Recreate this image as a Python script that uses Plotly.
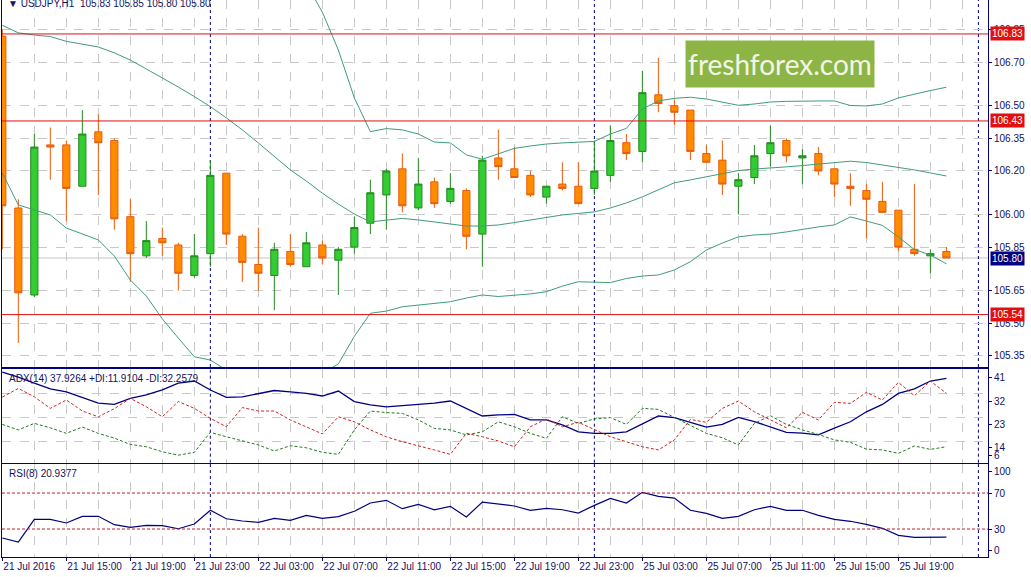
import plotly.graph_objects as go
from plotly.subplots import make_subplots

# USDJPY H1, 21 Jul 2016 11:00 .. 25 Jul 2016 22:00 (weekend skipped), one entry per bar
BARS = list(range(60))

OPEN = [106.82, 106.03, 105.63, 106.32, 106.32, 106.13, 106.38, 106.34, 105.99, 105.81,
        105.89, 105.86, 105.72, 105.82, 106.19, 105.90, 105.77, 105.72, 105.83, 105.76,
        105.86, 105.79, 105.85, 105.96, 106.09, 106.21, 106.03, 106.15, 106.06, 106.11,
        105.91, 106.26, 106.21, 106.18, 106.08, 106.14, 106.13, 106.12, 106.18, 106.33,
        106.29, 106.55, 106.50, 106.48, 106.28, 106.25, 106.13, 106.17, 106.28, 106.34,
        106.26, 106.28, 106.21, 106.13, 106.11, 106.06, 106.02, 105.84, 105.81, 105.83]
HIGH = [106.85, 106.07, 106.37, 106.40, 106.34, 106.48, 106.46, 106.35, 106.07, 105.97,
        105.94, 105.87, 105.91, 106.25, 106.19, 105.91, 105.94, 105.87, 105.91, 105.92,
        105.88, 105.85, 105.99, 106.16, 106.21, 106.28, 106.26, 106.17, 106.19, 106.12,
        106.27, 106.39, 106.31, 106.20, 106.13, 106.24, 106.24, 106.34, 106.41, 106.37,
        106.66, 106.72, 106.53, 106.48, 106.32, 106.34, 106.19, 106.32, 106.41, 106.35,
        106.30, 106.31, 106.21, 106.19, 106.14, 106.15, 106.02, 106.14, 105.84, 105.85]
LOW = [105.84, 105.41, 105.62, 106.16, 105.97, 106.13, 106.09, 105.93, 105.69, 105.80,
       105.81, 105.65, 105.71, 105.76, 105.86, 105.69, 105.65, 105.56, 105.76, 105.76,
       105.77, 105.63, 105.82, 105.91, 105.93, 106.01, 106.02, 106.03, 106.05, 105.84,
       105.76, 106.16, 106.17, 106.08, 106.05, 106.11, 106.05, 106.09, 106.15, 106.25,
       106.24, 106.47, 106.41, 106.25, 106.24, 106.09, 106.00, 106.14, 106.22, 106.24,
       106.14, 106.18, 106.08, 106.04, 105.89, 106.01, 105.83, 105.81, 105.73, 105.80]
CLOSE = [106.04, 105.64, 106.31, 106.31, 106.12, 106.37, 106.33, 105.98, 105.82, 105.88,
         105.87, 105.73, 105.81, 106.18, 105.91, 105.78, 105.73, 105.84, 105.77, 105.87,
         105.80, 105.84, 105.94, 106.10, 106.20, 106.04, 106.14, 106.05, 106.12, 105.90,
         106.25, 106.22, 106.17, 106.09, 106.13, 106.12, 106.05, 106.20, 106.34, 106.28,
         106.56, 106.51, 106.47, 106.29, 106.24, 106.14, 106.16, 106.27, 106.33, 106.27,
         106.27, 106.20, 106.14, 106.12, 106.07, 106.01, 105.85, 105.82, 105.82, 105.80]

# Bollinger bands
BB_UPPER = [107.549, 107.626, 107.629, 107.638, 107.654, 107.658, 107.657, 107.677, 107.721, 107.713,
            107.736, 107.740, 107.738, 107.661, 107.603, 107.558, 107.458, 107.342, 107.210, 107.060,
            106.930, 106.756, 106.536, 106.381, 106.395, 106.389, 106.370, 106.333, 106.329, 106.274,
            106.254, 106.278, 106.304, 106.315, 106.324, 106.329, 106.331, 106.336, 106.370, 106.396,
            106.485, 106.522, 106.534, 106.539, 106.531, 106.517, 106.502, 106.508, 106.517, 106.520,
            106.522, 106.522, 106.522, 106.501, 106.499, 106.508, 106.536, 106.554, 106.570, 106.585]
BB_MID = [106.870, 106.835, 106.825, 106.818, 106.796, 106.784, 106.770, 106.743, 106.710, 106.669,
          106.628, 106.586, 106.542, 106.496, 106.444, 106.389, 106.329, 106.266, 106.205, 106.154,
          106.098, 106.048, 106.002, 105.966, 105.975, 105.982, 105.975, 105.966, 105.956, 105.947,
          105.947, 105.952, 105.963, 105.975, 105.986, 105.998, 106.005, 106.012, 106.030, 106.053,
          106.081, 106.113, 106.146, 106.159, 106.174, 106.189, 106.202, 106.209, 106.213, 106.219,
          106.225, 106.232, 106.239, 106.245, 106.239, 106.228, 106.216, 106.205, 106.191, 106.177]
BB_LOWER = [106.191, 106.044, 106.021, 105.998, 105.938, 105.910, 105.883, 105.809, 105.699, 105.625,
            105.520, 105.432, 105.346, 105.331, 105.285, 105.220, 105.200, 105.190, 105.200, 105.250,
            105.270, 105.313, 105.440, 105.546, 105.556, 105.576, 105.584, 105.593, 105.599, 105.616,
            105.630, 105.623, 105.628, 105.635, 105.645, 105.671, 105.691, 105.690, 105.687, 105.706,
            105.717, 105.722, 105.745, 105.783, 105.837, 105.869, 105.897, 105.906, 105.910, 105.920,
            105.933, 105.943, 105.952, 105.989, 105.970, 105.950, 105.897, 105.839, 105.814, 105.773]

# ADX(14)
ADX = [40.3, 38.4, 36.1, 33.9, 32.8, 30.8, 28.5, 28.0, 30.3, 31.6,
       33.5, 36.1, 36.9, 33.5, 30.7, 30.9, 32.0, 33.3, 32.8, 32.2,
       31.2, 33.1, 29.1, 27.8, 27.1, 27.5, 28.0, 28.5, 29.3, 26.6,
       23.6, 24.0, 24.2, 22.1, 22.1, 20.2, 17.6, 17.0, 17.0, 17.6,
       20.7, 23.6, 23.0, 21.3, 19.4, 20.4, 23.1, 21.5, 19.4, 17.4,
       17.1, 16.4, 19.0, 21.4, 25.2, 28.0, 32.2, 33.9, 36.9, 37.93]
PLUS_DI = [20.4, 18.3, 20.8, 19.1, 17.0, 19.4, 17.0, 15.2, 12.8, 11.9,
           10.0, 8.7, 9.8, 17.4, 15.7, 14.1, 12.6, 10.3, 12.3, 11.5,
           9.8, 9.0, 18.3, 25.5, 24.9, 24.6, 22.1, 18.9, 18.3, 16.4,
           17.6, 21.4, 19.5, 17.0, 15.1, 23.3, 20.8, 22.5, 23.0, 20.4,
           26.5, 26.1, 23.0, 20.2, 17.0, 15.3, 12.6, 20.8, 23.7, 20.4,
           18.3, 16.6, 14.5, 13.6, 11.0, 10.7, 9.4, 12.2, 10.9, 11.91]
MINUS_DI = [30.8, 34.1, 30.9, 26.5, 29.7, 25.5, 23.3, 26.4, 30.3, 27.1,
            23.3, 29.1, 26.5, 22.7, 19.5, 26.8, 25.5, 25.5, 22.1, 19.5,
            16.8, 23.3, 21.4, 18.3, 15.7, 13.8, 12.3, 10.7, 9.0, 17.0,
            15.7, 14.1, 11.9, 19.5, 22.5, 19.5, 21.2, 18.3, 15.7, 13.8,
            11.9, 10.7, 14.5, 22.3, 21.2, 26.5, 29.3, 25.2, 22.3, 19.1,
            25.0, 22.1, 28.8, 28.4, 32.6, 29.7, 36.4, 31.3, 36.9, 32.26]

# RSI(8)
RSI = [20.0, 15.6, 40.8, 40.8, 36.7, 44.1, 44.1, 34.8, 31.9, 34.1,
       33.7, 30.3, 35.6, 50.8, 41.4, 38.9, 37.4, 41.9, 39.7, 45.2,
       41.9, 43.7, 49.7, 58.9, 61.9, 52.6, 57.4, 51.4, 55.2, 43.3,
       60.0, 57.4, 55.6, 50.8, 53.0, 51.4, 47.8, 56.3, 64.1, 58.9,
       70.8, 66.3, 64.4, 50.8, 47.4, 41.9, 44.1, 51.4, 55.2, 50.8,
       50.8, 45.2, 40.8, 38.6, 35.2, 30.8, 23.0, 20.8, 20.8, 20.94]

LEVELS = [106.83, 106.43, 105.54]
LAST_PRICE = 105.80
DAY_STARTS = [13, 37, 61]
RSI_LEVELS = [70, 30]

PRICE_TICKS = [106.85, 106.70, 106.50, 106.35, 106.20, 106.00, 105.85, 105.65, 105.50, 105.35]
ADX_TICK_TEXT = ["41", "32", "23", "14", "6"]
ADX_TICK_POS = [38.3, 29.0, 20.2, 11.7, 8.5]
ADX_GRID = [32, 23, 14]
RSI_TICK_TEXT = ["100", "70", "30", "0"]
RSI_TICK_POS = [94.1, 70, 30, 5.9]

X_TICK_BARS = list(range(0, 60, 4))
X_TICK_TEXT = ["21 Jul 2016", "21 Jul 15:00", "21 Jul 19:00", "21 Jul 23:00",
               "22 Jul 03:00", "22 Jul 07:00", "22 Jul 11:00", "22 Jul 15:00",
               "22 Jul 19:00", "22 Jul 23:00", "25 Jul 03:00", "25 Jul 07:00",
               "25 Jul 11:00", "25 Jul 15:00", "25 Jul 19:00"]

NAVY = "#000080"
TEXT = "#12125e"
GRID = "#c8c8c8"
RED = "#e01010"
BB_COLOR = "#3f9c7c"
FONT = "Tahoma, 'Liberation Sans', Arial, sans-serif"

fig = make_subplots(rows=3, cols=1, shared_xaxes=True, vertical_spacing=0)

fig.add_trace(go.Candlestick(
    x=BARS, open=OPEN, high=HIGH, low=LOW, close=CLOSE, whiskerwidth=0,
    increasing=dict(line=dict(color="#23891f", width=1), fillcolor="#33cc33"),
    decreasing=dict(line=dict(color="#ea5a0c", width=1), fillcolor="#ff8c00"),
), row=1, col=1)

for band in (BB_UPPER, BB_MID, BB_LOWER):
    fig.add_trace(go.Scatter(x=BARS, y=band, mode="lines",
                             line=dict(color=BB_COLOR, width=1)), row=1, col=1)

fig.add_trace(go.Scatter(x=BARS, y=ADX, mode="lines", line=dict(color=NAVY, width=1.3)), row=2, col=1)
fig.add_trace(go.Scatter(x=BARS, y=PLUS_DI, mode="lines",
                         line=dict(color="#1f7a1f", width=1, dash="3px,2px")), row=2, col=1)
fig.add_trace(go.Scatter(x=BARS, y=MINUS_DI, mode="lines",
                         line=dict(color="#cc2222", width=1, dash="3px,2px")), row=2, col=1)

fig.add_trace(go.Scatter(x=BARS, y=RSI, mode="lines", line=dict(color=NAVY, width=1.2)), row=3, col=1)

# horizontal levels
fig.add_hline(y=LAST_PRICE, line=dict(color="#c4c4c4", width=1), layer="below", row=1, col=1)
for lvl in LEVELS:
    fig.add_hline(y=lvl, line=dict(color=RED, width=1), row=1, col=1)
for lvl in RSI_LEVELS:
    fig.add_hline(y=lvl, line=dict(color="#c81e1e", width=1, dash="3px,2px"), row=3, col=1)

# day separators (behind the candles)
for b in DAY_STARTS:
    fig.add_vline(x=b, line=dict(color=NAVY, width=1, dash="3px,3px"), layer="below")

# price labels on the right axis
for lvl in LEVELS:
    fig.add_annotation(x=1, xref="paper", xanchor="left", xshift=2, y=lvl, yref="y",
                       text=f"{lvl:.2f}", showarrow=False, bgcolor=RED, borderpad=1,
                       font=dict(color="white", size=10, family=FONT))
fig.add_annotation(x=1, xref="paper", xanchor="left", xshift=2, y=LAST_PRICE, yref="y",
                   text=f"{LAST_PRICE:.2f}", showarrow=False, bgcolor=NAVY, borderpad=1,
                   font=dict(color="white", size=10, family=FONT))

# panel captions
fig.add_annotation(x=0.004, y=0.993, xref="paper", yref="paper", xanchor="left", yanchor="middle",
                   text="\u25bc USDJPY,H1  105.83 105.85 105.80 105.80", showarrow=False,
                   font=dict(color=TEXT, size=10, family=FONT))
fig.add_annotation(x=0.005, y=0.3196, xref="paper", yref="paper", xanchor="left", yanchor="middle",
                   text="ADX(14) 37.9264 +DI:11.9104 -DI:32.2579", showarrow=False,
                   font=dict(color=TEXT, size=10, family=FONT))
fig.add_annotation(x=0.005, y=0.1496, xref="paper", yref="paper", xanchor="left", yanchor="middle",
                   text="RSI(8) 20.9377", showarrow=False,
                   font=dict(color=TEXT, size=10, family=FONT))

# watermark
fig.add_annotation(x=0.789, y=0.885, xref="paper", yref="paper", xanchor="center", yanchor="middle",
                   text="freshforex.com", showarrow=False, width=186, height=44,
                   bgcolor="#8db545", font=dict(color="#f3f5e6", size=28, family="Lato"))

fig.update_layout(
    width=1031, height=577,
    margin=dict(l=2, r=43, t=0, b=20),
    paper_bgcolor="white", plot_bgcolor="white",
    showlegend=False, boxgap=0.36,
    font=dict(family=FONT, size=10, color=TEXT),
    yaxis=dict(domain=[0.3411, 1.0]),
    yaxis2=dict(domain=[0.1693, 0.3375]),
    yaxis3=dict(domain=[0.0, 0.1675]),
)

fig.update_xaxes(
    range=[-0.02, 61.6], showline=True, mirror=True, linecolor=NAVY, linewidth=1,
    tickvals=X_TICK_BARS, ticktext=X_TICK_TEXT,
    showgrid=True, gridcolor=GRID, griddash="dash", gridwidth=1, zeroline=False,
    minor=dict(tickvals=list(range(0, 62, 2)), showgrid=True, gridcolor=GRID, griddash="dash"),
    rangeslider_visible=False, ticks="",
)
fig.update_xaxes(ticks="outside", ticklen=3, tickcolor=NAVY, ticklabelposition="outside right",
                 tickfont=dict(size=10, color=TEXT), row=3, col=1)

fig.update_yaxes(side="right", showline=True, mirror=True, linecolor=NAVY, linewidth=1,
                 zeroline=False, ticks="outside", ticklen=3, tickcolor=NAVY,
                 tickfont=dict(size=10, color=TEXT))
fig.update_yaxes(range=[105.299, 106.986], tickvals=PRICE_TICKS, tickformat=".2f",
                 showgrid=True, gridcolor=GRID, griddash="dash", row=1, col=1)
fig.update_yaxes(range=[5.84, 41.47], tickvals=ADX_TICK_POS, ticktext=ADX_TICK_TEXT, showgrid=False,
                 minor=dict(tickvals=ADX_GRID, showgrid=True, gridcolor=GRID, griddash="dash"),
                 row=2, col=1)
fig.update_yaxes(range=[-1.1, 102.6], tickvals=RSI_TICK_POS, ticktext=RSI_TICK_TEXT, showgrid=False,
                 row=3, col=1)

# the page body has a default 8px margin; drop it so the figure fills the window
fig.write_html("out.html", config={"displayModeBar": False},
               post_script="document.body.style.margin = '0px';")
